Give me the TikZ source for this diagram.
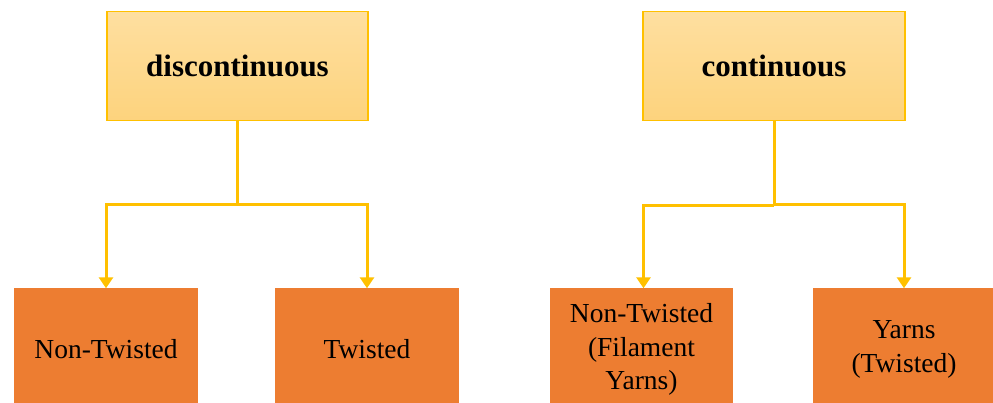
\documentclass[tikz,border=0pt]{standalone}
\usepackage{fontspec}
\setmainfont{Liberation Serif}
\usetikzlibrary{arrows.meta}
\definecolor{gold}{HTML}{FFC000}
\definecolor{lighttop}{HTML}{FEDFA0}
\definecolor{lightbot}{HTML}{FDD37D}
\definecolor{orangebox}{HTML}{ED7D31}
\tikzset{
  topbox/.style={draw=gold, line width=1.2pt, top color=lighttop, bottom color=lightbot,
    minimum height=109pt, inner sep=0pt, font=\fontsize{31}{36}\selectfont\bfseries},
  leafbox/.style={fill=orangebox, draw=none, minimum height=122pt, inner sep=0pt,
    align=center, font=\fontsize{27.5}{33.5}\selectfont},
  conn/.style={draw=gold, line width=3pt},
  arr/.style={conn, -{Triangle[width=14pt,length=11pt]}}
}
\begin{document}
\begin{tikzpicture}[x=1pt,y=-1pt]
\useasboundingbox (0,0) rectangle (993,403);
\node[topbox, minimum width=261pt] (tl) at (237.5,66) {discontinuous};
\node[topbox, minimum width=262pt] (tr) at (774,66) {continuous};
\node[leafbox, minimum width=184pt] (b1) at (106,349.5) {Non-Twisted};
\node[leafbox, minimum width=184pt] (b2) at (367,349.5) {Twisted};
\node[leafbox, minimum width=183pt] (b3) at (641.5,349.5) {Non-Twisted\\(Filament\\Yarns)};
\node[leafbox, minimum width=182pt] (b4) at (904,349.5) {Yarns\\(Twisted)};
\coordinate (jl) at (237.5,205);
\coordinate (jr) at (774,206);
\coordinate (jr2) at (774,205);
\draw[conn] (tl.south) -- (jl);
\draw[arr] (jl) -| (b1.north);
\draw[arr] (jl) -| (b2.north);
\draw[conn] (tr.south) -- (jr);
\draw[arr] (jr) -| ([xshift=2pt]b3.north);
\draw[arr] (jr2) -| (b4.north);
\end{tikzpicture}
\end{document}
